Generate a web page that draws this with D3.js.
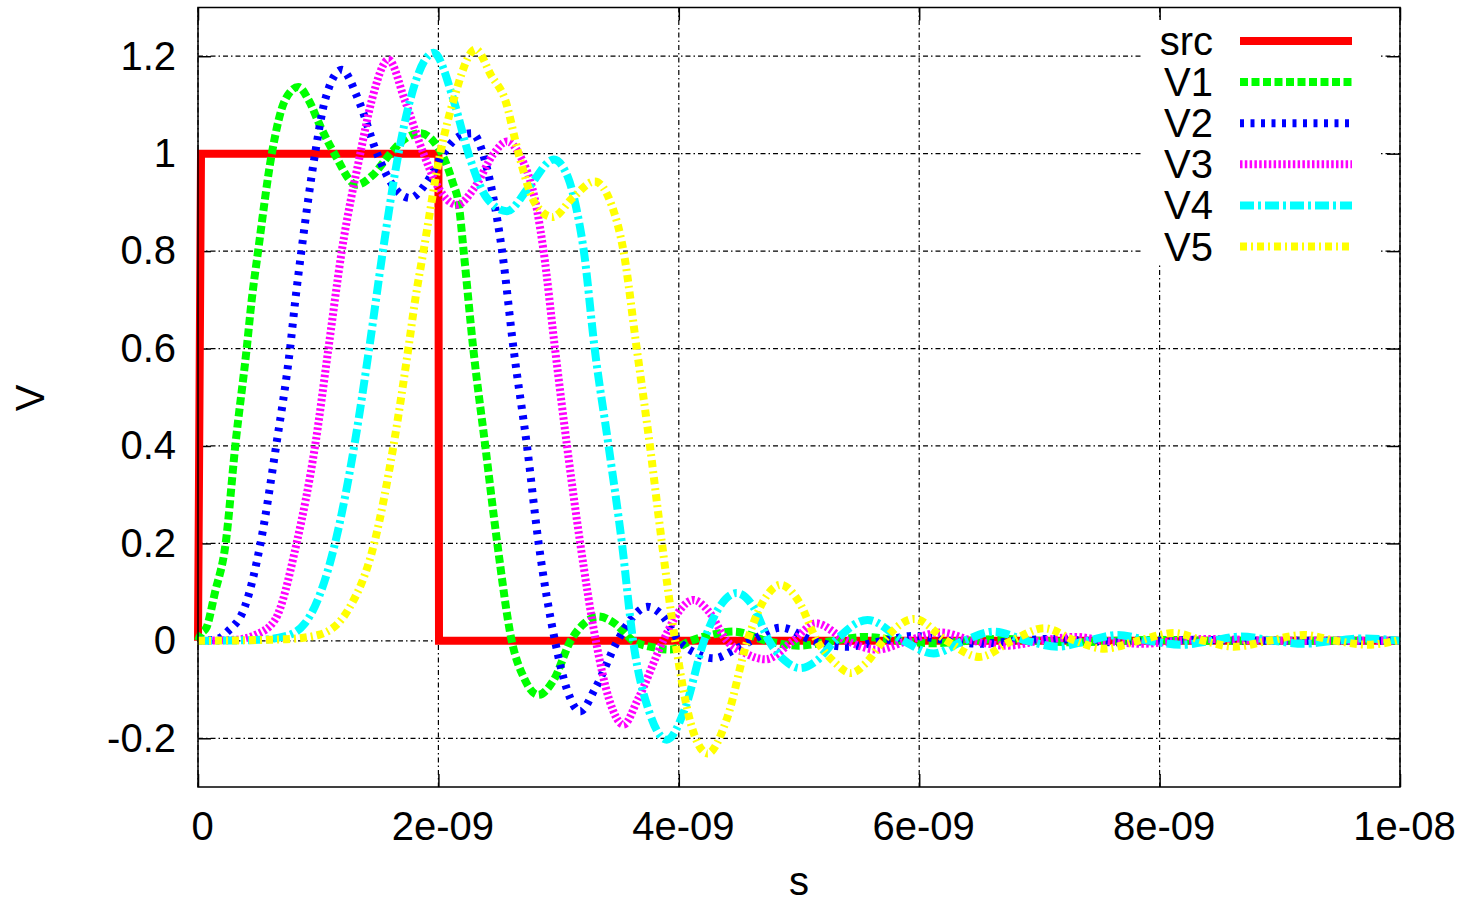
<!DOCTYPE html>
<html>
<head>
<meta charset="utf-8">
<script src="https://cdn.jsdelivr.net/npm/d3@7"></script>
<style>
  body { margin: 0; background: #fff; }
  text { font-family: "Liberation Sans", Arial, sans-serif; }
</style>
</head>
<body>
<div id="wrapper"></div>
<script>
// tick values (time in ns, shown as seconds)
const xTicks = [0, 2, 4, 6, 8, 10];
const xTickLabels = ["0", "2e-09", "4e-09", "6e-09", "8e-09", "1e-08"];
const yTicks = [-0.2, 0, 0.2, 0.4, 0.6, 0.8, 1, 1.2];
const yTickLabels = ["-0.2", "0", "0.2", "0.4", "0.6", "0.8", "1", "1.2"];

const seriesNames = ["src", "V1", "V2", "V3", "V4", "V5"];
const seriesColors = ["#ff0000", "#00ff00", "#0000ff", "#ff00ff", "#00ffff", "#ffff00"];
const seriesDashes = [null, "8,3.5", "4,6.5", "2.5,2.3", "14,4,3,4", "7,4,2,4"];

// [t (ns), volts]
const src = [[0, 0], [0.025, 1], [2, 1], [2.005, 0], [10, 0]];
const v1 = [[0,0],[0.03,0.016],[0.07,0.027],[0.14,0.098],[0.23,0.2],[0.31,0.4],[0.405,0.6],[0.447,0.7],[0.5,0.8],
  [0.614,1.0],[0.724,1.11],[0.835,1.137],[0.92,1.11],[1.02,1.055],[1.135,1.0],[1.32,0.936],[1.45,0.955],[1.6,1.0],
  [1.72,1.03],[1.85,1.042],[1.96,1.025],[2.04,0.994],[2.12,0.94],[2.17,0.895],[2.21,0.8],[2.29,0.6],[2.39,0.4],
  [2.49,0.2],[2.61,0],[2.71,-0.075],[2.83,-0.111],[2.96,-0.08],[3.1,0],[3.21,0.035],[3.33,0.05],[3.47,0.035],
  [3.62,0],[3.78,-0.013],[3.93,-0.018],[4.1,0],[4.28,0.013],[4.46,0.019],[4.73,0],[5.0,-0.01],[5.28,0],[5.55,0.008],
  [5.85,0],[6.1,-0.005],[6.4,0],[6.7,0.004],[7.0,0],[7.3,-0.003],[7.65,0],[8.0,0.002],[8.5,0],[10,0]];
const v2 = [[0,0],[0.15,0.003],[0.25,0.02],[0.39,0.07],[0.52,0.2],[0.65,0.4],[0.766,0.6],[0.81,0.7],[0.86,0.8],
  [0.974,1.0],[1.057,1.11],[1.196,1.172],[1.335,1.11],[1.49,1.0],[1.62,0.935],[1.765,0.909],[1.9,0.94],[2.04,1.0],
  [2.17,1.035],[2.28,1.042],[2.4,0.974],[2.49,0.864],[2.53,0.8],[2.625,0.6],[2.737,0.4],[2.834,0.2],[2.97,0],
  [3.07,-0.1],[3.18,-0.145],[3.3,-0.1],[3.49,0],[3.62,0.05],[3.74,0.07],[3.87,0.05],[4.0,0],[4.14,-0.025],
  [4.29,-0.036],[4.45,-0.02],[4.6,0],[4.85,0.027],[5.12,0],[5.4,-0.012],[5.7,0],[5.95,0.01],[6.25,0],[6.5,-0.006],
  [6.8,0],[7.1,0.004],[7.4,0],[7.65,-0.003],[8.0,0],[8.3,0.002],[9.0,0],[10,0]];
const v3 = [[0,0],[0.3,0.002],[0.475,0.012],[0.64,0.043],[0.82,0.2],[0.974,0.4],[1.085,0.6],[1.196,0.8],[1.35,1.0],
  [1.446,1.11],[1.585,1.193],[1.72,1.11],[1.876,1.0],[2.0,0.93],[2.154,0.895],[2.3,0.93],[2.46,1.0],[2.57,1.025],
  [2.67,1.0],[2.82,0.885],[2.875,0.8],[2.97,0.6],[3.07,0.4],[3.18,0.2],[3.31,0],[3.42,-0.12],[3.54,-0.172],
  [3.66,-0.12],[3.87,0],[4.0,0.06],[4.12,0.084],[4.25,0.06],[4.4,0],[4.55,-0.025],[4.72,-0.038],[4.95,0],
  [5.14,0.036],[5.4,0],[5.65,-0.018],[5.9,0],[6.18,0.017],[6.45,0],[6.73,-0.01],[7.0,0],[7.3,0.008],[7.55,0],
  [7.85,-0.006],[8.15,0],[8.4,0.004],[9.0,0],[10,0]];
const v4 = [[0,0],[0.5,0.002],[0.72,0.009],[0.89,0.036],[1.14,0.2],[1.3,0.4],[1.424,0.6],[1.538,0.8],[1.668,1.0],
  [1.765,1.11],[1.96,1.207],[2.126,1.11],[2.25,1.0],[2.4,0.91],[2.57,0.882],[2.75,0.93],[2.96,0.988],[3.08,0.95],
  [3.15,0.885],[3.21,0.8],[3.3,0.6],[3.416,0.4],[3.527,0.2],[3.62,0],[3.76,-0.15],[3.9,-0.203],[4.05,-0.14],
  [4.21,0],[4.34,0.07],[4.48,0.098],[4.62,0.07],[4.75,0],[4.88,-0.04],[5.01,-0.056],[5.15,-0.04],[5.3,0],
  [5.57,0.043],[5.87,0],[6.12,-0.026],[6.37,0],[6.62,0.019],[6.9,0],[7.15,-0.012],[7.4,0],[7.65,0.012],[7.92,0],
  [8.18,-0.008],[8.43,0],[8.68,0.009],[8.95,0],[9.2,-0.006],[9.45,0],[9.7,0.005],[10,0]];
const v5 = [[0,0],[0.7,0.003],[1.0,0.012],[1.25,0.064],[1.466,0.2],[1.626,0.4],[1.75,0.6],[1.807,0.7],[1.876,0.8],
  [2.015,1.0],[2.126,1.11],[2.31,1.214],[2.44,1.16],[2.556,1.11],[2.667,1.0],[2.8,0.9],[2.95,0.87],[3.12,0.91],
  [3.3,0.943],[3.44,0.895],[3.54,0.8],[3.65,0.6],[3.76,0.4],[3.86,0.2],[3.97,0],[4.1,-0.17],[4.24,-0.231],
  [4.4,-0.16],[4.57,0],[4.7,0.08],[4.85,0.115],[5.0,0.08],[5.15,0],[5.3,-0.045],[5.43,-0.066],[5.56,-0.045],
  [5.7,0],[5.96,0.045],[6.23,0],[6.5,-0.033],[6.77,0],[7.04,0.026],[7.3,0],[7.54,-0.016],[7.82,0],[8.12,0.016],
  [8.37,0],[8.62,-0.012],[8.9,0],[9.2,0.012],[9.47,0],[9.73,-0.008],[10,0.002]];

const seriesData = [src, v1, v2, v3, v4, v5];

dimensions = {
  width: 1465,
  height: 906,
  margin: {top: 7.5, left: 198, bottom: 119, right: 65}
}
dimensions.right = dimensions.width - dimensions.margin.right;
dimensions.bottom = dimensions.height - dimensions.margin.bottom;

const fontSize = 40;

wrapper = d3.select("#wrapper").append("svg")
  .attr("width", dimensions.width)
  .attr("height", dimensions.height);

xScale = d3.scaleLinear().domain([0, 10]).range([dimensions.margin.left, dimensions.right]);
yScale = d3.scaleLinear().domain([-0.3, 1.3]).range([dimensions.bottom, dimensions.margin.top]);

// grid
const gridDash = "5,3,1.5,3";
wrapper.append("g")
  .selectAll("line").data(xTicks).enter().append("line")
  .attr("x1", d => xScale(d)).attr("x2", d => xScale(d))
  .attr("y1", dimensions.margin.top).attr("y2", dimensions.bottom)
  .attr("stroke", "#000").attr("stroke-width", 1.2).attr("stroke-dasharray", gridDash);
wrapper.append("g")
  .selectAll("line").data(yTicks).enter().append("line")
  .attr("x1", dimensions.margin.left).attr("x2", dimensions.right)
  .attr("y1", d => yScale(d)).attr("y2", d => yScale(d))
  .attr("stroke", "#000").attr("stroke-width", 1.2).attr("stroke-dasharray", gridDash);

// axes with inward ticks
const tickLen = 13;
const xAxis = wrapper.append("g")
  .attr("transform", `translate(0, ${dimensions.bottom})`)
  .call(d3.axisBottom(xScale).tickValues(xTicks).tickSize(-tickLen).tickPadding(25)
    .tickFormat((d, i) => xTickLabels[i]));
const xAxisTop = wrapper.append("g")
  .attr("transform", `translate(0, ${dimensions.margin.top})`)
  .call(d3.axisTop(xScale).tickValues(xTicks).tickSize(-tickLen).tickFormat(""));
const yAxis = wrapper.append("g")
  .attr("transform", `translate(${dimensions.margin.left}, 0)`)
  .call(d3.axisLeft(yScale).tickValues(yTicks).tickSize(-tickLen).tickPadding(22)
    .tickFormat((d, i) => yTickLabels[i]));
const yAxisRight = wrapper.append("g")
  .attr("transform", `translate(${dimensions.right}, 0)`)
  .call(d3.axisRight(yScale).tickValues(yTicks).tickSize(-tickLen).tickFormat(""));

[xAxis, xAxisTop, yAxis, yAxisRight].forEach(a => {
  a.select(".domain").remove();
  a.selectAll("line").attr("stroke", "#000").attr("stroke-width", 1.5);
  a.selectAll("text").attr("font-size", fontSize).attr("fill", "#000")
    .style("font-family", '"Liberation Sans", Arial, sans-serif');
});
xAxis.selectAll("text").attr("dx", 4);

// series
const line = d3.line()
  .x(d => xScale(d[0]))
  .y(d => yScale(d[1]))
  .curve(d3.curveMonotoneX);
const lineStep = d3.line()
  .x(d => xScale(d[0]))
  .y(d => yScale(d[1]));

seriesData.forEach((data, i) => {
  wrapper.append("path")
    .datum(data)
    .attr("fill", "none")
    .attr("stroke", seriesColors[i])
    .attr("stroke-width", 8)
    .attr("stroke-linejoin", i === 0 ? "miter" : "round")
    .attr("stroke-dasharray", seriesDashes[i])
    .attr("d", i === 0 ? lineStep : line);
});

// frame
wrapper.append("rect")
  .attr("x", dimensions.margin.left).attr("y", dimensions.margin.top)
  .attr("width", dimensions.right - dimensions.margin.left)
  .attr("height", dimensions.bottom - dimensions.margin.top)
  .attr("fill", "none").attr("stroke", "#000").attr("stroke-width", 1.5);

// legend
const legend = wrapper.append("g");
legend.append("rect")
  .attr("x", 1143).attr("y", 20).attr("width", 237).attr("height", 245)
  .attr("fill", "#fff");
seriesNames.forEach((name, i) => {
  const ly = 41 + i * 41.1;
  legend.append("text")
    .attr("x", 1213).attr("y", ly).attr("dy", "0.35em")
    .attr("text-anchor", "end")
    .attr("font-size", fontSize)
    .text(name);
  legend.append("line")
    .attr("x1", 1240).attr("x2", 1352)
    .attr("y1", ly).attr("y2", ly)
    .attr("stroke", seriesColors[i])
    .attr("stroke-width", 8)
    .attr("stroke-dasharray", seriesDashes[i]);
});

// axis titles
wrapper.append("text")
  .attr("transform", "translate(44, 398) rotate(-90)")
  .attr("text-anchor", "middle")
  .attr("font-size", fontSize)
  .text("V");
wrapper.append("text")
  .attr("x", 799).attr("y", 895)
  .attr("text-anchor", "middle")
  .attr("font-size", fontSize)
  .text("s");
</script>
</body>
</html>
